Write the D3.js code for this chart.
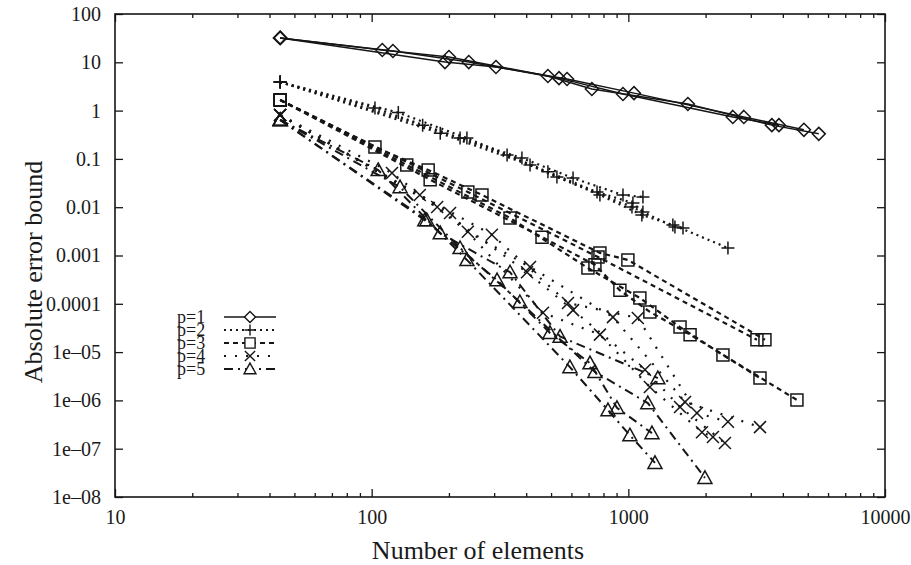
<!DOCTYPE html>
<html lang="en">
<head>
  <meta charset="UTF-8">
  <title>Absolute error bound</title>
  <style type="text/css">
    body{ margin:0; background:#fff; }
    svg text{ font-family:"Liberation Serif","DejaVu Serif",serif; fill:#1a1a1a; }
  </style>
  <script src="https://d3js.org/d3.v7.min.js"></script>
</head>
<body>
  <svg></svg>
  <script>
    // number of elements / error bound, one list per curve
    const p1N = [[44,110,200,486,721,1706,3623,5522],[44,121,239,537,953,2553,3861],[44,193,305,577,1052,2818,4831]];
    const p1E = [[32,18,12.9,5.2,2.8,1.37,0.50,0.33],[32,17.1,10.1,4.7,2.2,0.74,0.50],[32,10.1,8.0,4.5,2.3,0.74,0.40]];

    const p2N = [[44,103,221,385,609,953,1140],[44,127,235,486,755,1042,1140],[44,158,337,527,1033,1519,1633],[44,185,414,775,1129,1491,2444]];
    const p2E = [[3.9,1.13,0.27,0.104,0.040,0.0179,0.0163],[3.9,0.91,0.27,0.054,0.0206,0.0122,0.0080],[3.9,0.50,0.12,0.042,0.0101,0.0039,0.0037],[3.9,0.34,0.075,0.0179,0.0069,0.0043,0.00143]];

    const p3N = [[44,103,166,269,775,996,3406],[44,137,346,696,1109,1590,2337,3258],[44,169,461,741,927,1213,1740,4538],[44,237,762,3170]];
    const p3E = [[1.66,0.176,0.059,0.0179,0.00113,0.00081,1.8e-5],[1.66,0.075,0.0060,0.00055,0.000132,3.3e-5,8.7e-6,2.9e-6],[1.66,0.037,0.0024,0.00064,0.00019,6.8e-5,2.3e-5,1.02e-6],[1.66,0.0206,0.00093,1.8e-5]];

    const p4N = [[44,120,237,414,871,1663,3258],[44,154,294,582,1089,1851,2444],[44,180,403,609,1161,1590,2379],[44,202,465,775,1213,1936,2136]];
    const p4E = [[0.81,0.051,0.0031,0.00058,5.3e-5,9.3e-7,2.8e-7],[0.81,0.0179,0.0027,1.04e-4,5.1e-5,5.5e-7,3.6e-7],[0.81,0.0101,0.00045,7.4e-5,4.3e-6,7.3e-7,1.31e-7],[0.81,0.0076,6.5e-5,2.3e-5,1.9e-6,2.2e-7,1.75e-7]];

    const p5N = [[44,106,185,346,542,1303],[44,129,221,378,741,1191,1988],[44,161,308,495,709,903,1236],[44,164,235,592,833,1014,1270]];
    const p5E = [[0.64,0.059,0.0029,0.00045,2.1e-5,2.9e-6],[0.64,0.026,0.00143,1.09e-4,3.9e-6,8.8e-7,2.5e-8],[0.64,0.0054,0.00031,2.5e-5,5.9e-6,7.0e-7,2.1e-7],[0.64,0.0054,0.00081,4.9e-6,6.3e-7,1.9e-7,5.1e-8]];

    const legendLabels = ["p=1","p=2","p=3","p=4","p=5"];
    const xTicks = [10,100,1000,10000];
    const yTicks = [100,10,1,0.1,0.01,0.001,0.0001,1e-5,1e-6,1e-7,1e-8];
    const yTickLabels = ["100","10","1","0.1","0.01","0.001","0.0001","1e\u201305","1e\u201306","1e\u201307","1e\u201308"];

    const W = 911, H = 565;
    const mLeft = 115, mRight = 885, mTop = 14, mBottom = 497;
    const ink = "#161616";

    const svg = d3.select("svg").attr("width", W).attr("height", H);

    const x = d3.scaleLog().domain([10,10000]).range([mLeft,mRight]);
    const y = d3.scaleLog().domain([1e-8,100]).range([mBottom,mTop]);

    const minors = [];
    for (let d = 10; d < 10000; d *= 10)
      for (let k = 2; k <= 9; k++) minors.push(d*k);

    // ticks, all pointing inwards
    function styleAxis(g){
      g.select(".domain").remove();
      g.selectAll("line").attr("stroke", ink).attr("stroke-width", 1.3);
      g.selectAll("text").attr("font-size", 20).attr("fill", ink);
    }
    svg.append("g").attr("transform",`translate(0,${mBottom})`)
       .call(d3.axisBottom(x).tickValues(xTicks).tickSize(-8).tickPadding(13).tickFormat(d3.format("d")))
       .call(styleAxis);
    svg.append("g").attr("transform",`translate(0,${mBottom})`)
       .call(d3.axisBottom(x).tickValues(minors).tickSize(-4).tickFormat(""))
       .call(styleAxis);
    svg.append("g").attr("transform",`translate(0,${mTop})`)
       .call(d3.axisTop(x).tickValues(xTicks).tickSize(-8).tickFormat(""))
       .call(styleAxis);
    svg.append("g").attr("transform",`translate(0,${mTop})`)
       .call(d3.axisTop(x).tickValues(minors).tickSize(-4).tickFormat(""))
       .call(styleAxis);
    svg.append("g").attr("transform",`translate(${mLeft},0)`)
       .call(d3.axisLeft(y).tickValues(yTicks).tickSize(-8).tickPadding(14)
             .tickFormat((d,i) => yTickLabels[i]))
       .call(styleAxis);
    svg.append("g").attr("transform",`translate(${mRight},0)`)
       .call(d3.axisRight(y).tickValues(yTicks).tickSize(-8).tickFormat(""))
       .call(styleAxis);

    svg.append("rect")
       .attr("x", mLeft).attr("y", mTop)
       .attr("width", mRight-mLeft).attr("height", mBottom-mTop)
       .attr("fill","none").attr("stroke", ink).attr("stroke-width", 1.6);

    // axis titles
    svg.append("text")
       .attr("x", 478).attr("y", 559)
       .attr("text-anchor","middle").attr("font-size", 26)
       .text("Number of elements");
    svg.append("text")
       .attr("transform","translate(42,272) rotate(-90)")
       .attr("text-anchor","middle").attr("font-size", 26)
       .text("Absolute error bound");

    // markers
    function marker(type, s){
      switch(type){
        case "diamond": return `M0,${-s}L${s},0L0,${s}L${-s},0Z`;
        case "plus":    return `M${-s},0H${s}M0,${-s}V${s}`;
        case "square":  return `M${-s},${-s}H${s}V${s}H${-s}Z`;
        case "cross":   return `M${-s},${-s}L${s},${s}M${-s},${s}L${s},${-s}`;
        default:        return `M0,${-s}L${s},${s*0.8}H${-s}Z`;
      }
    }

    const groups = [
      {N:p1N, E:p1E, sym:"diamond",  size:6.5, dash:null,        lw:1.5},
      {N:p2N, E:p2E, sym:"plus",     size:6.5, dash:"2,4",       lw:2.2},
      {N:p3N, E:p3E, sym:"square",   size:6,   dash:"5,4",       lw:2.2},
      {N:p4N, E:p4E, sym:"cross",    size:6,   dash:"2,9",       lw:2.2},
      {N:p5N, E:p5E, sym:"triangle", size:7,   dash:"9,5,2,5",   lw:2}
    ];

    const line = d3.line().x(d => x(d[0])).y(d => y(d[1]));
    const plot = svg.append("g");

    groups.forEach(g => {
      g.N.forEach((ns, k) => {
        const pts = ns.map((n,i) => [n, g.E[k][i]]);
        plot.append("path")
            .attr("d", line(pts))
            .attr("fill","none").attr("stroke", ink)
            .attr("stroke-width", g.lw)
            .attr("stroke-dasharray", g.dash);
        plot.selectAll(null).data(pts).enter().append("path")
            .attr("transform", d => `translate(${x(d[0])},${y(d[1])})`)
            .attr("d", marker(g.sym, g.size))
            .attr("fill","none").attr("stroke", ink).attr("stroke-width", 1.5);
      });
    });

    // legend
    const leg = svg.append("g").attr("transform","translate(0,317)");
    groups.forEach((g,i) => {
      const row = leg.append("g").attr("transform",`translate(0,${i*13})`);
      row.append("text").attr("x", 177).attr("y", 6).attr("font-size", 18).text(legendLabels[i]);
      row.append("line").attr("x1", 224).attr("x2", 276).attr("y1", 0).attr("y2", 0)
         .attr("stroke", ink).attr("stroke-width", g.lw).attr("stroke-dasharray", g.dash);
      row.append("path").attr("transform","translate(250,0)")
         .attr("d", marker(g.sym, g.size*0.85))
         .attr("fill","#fff").attr("stroke", ink).attr("stroke-width", 1.4);
    });
  </script>
</body>
</html>
